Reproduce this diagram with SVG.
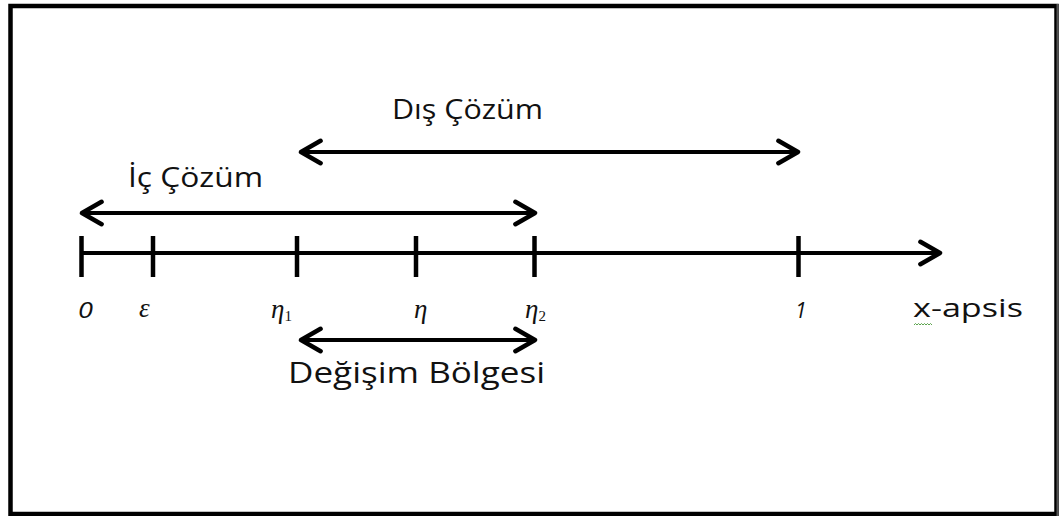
<svg xmlns="http://www.w3.org/2000/svg" width="1059" height="516" viewBox="0 0 1059 516">
  <style>
    .line { stroke: #000; stroke-width: 4; fill: none; stroke-linecap: butt; }
    .tick { stroke: #000; stroke-width: 4.5; }
    .lbl { font-family: "Open Sans", "Liberation Sans", sans-serif; fill: #111; }
    .math { font-family: "Liberation Serif", serif; font-style: italic; fill: #111; }
  </style>
  <defs>
    <marker id="chev" viewBox="0 0 20 20" refX="17" refY="10" markerWidth="7" markerHeight="7" markerUnits="strokeWidth" orient="auto-start-reverse">
      <path d="M3,2 L17,10 L3,18" fill="none" stroke="#000" stroke-width="3.2" stroke-linecap="round" stroke-linejoin="round"/>
    </marker>
  </defs>

  <rect x="0" y="0" width="1059" height="516" fill="#fff"/>
  <!-- frame -->
  <rect x="10.5" y="6" width="1046" height="508" fill="none" stroke="#000" stroke-width="4.5"/>
  <line x1="1057.5" y1="4" x2="1057.5" y2="516" stroke="#555" stroke-width="2"/>

  <g id="connectors">
    <!-- x axis -->
    <line class="line" x1="80" y1="253" x2="940" y2="253" marker-end="url(#chev)"/>
    <!-- Iç Çözüm range -->
    <line class="line" x1="82" y1="213" x2="535" y2="213" marker-start="url(#chev)" marker-end="url(#chev)"/>
    <!-- Dış Çözüm range -->
    <line class="line" x1="301" y1="152" x2="798" y2="152" marker-start="url(#chev)" marker-end="url(#chev)"/>
    <!-- Değişim Bölgesi range -->
    <line class="line" x1="301" y1="340" x2="535" y2="340" marker-start="url(#chev)" marker-end="url(#chev)"/>
  </g>

  <g id="ticks">
    <line class="tick" x1="81.5" y1="236" x2="81.5" y2="277"/>
    <line class="tick" x1="153" y1="236" x2="153" y2="277"/>
    <line class="tick" x1="297" y1="236" x2="297" y2="277"/>
    <line class="tick" x1="416" y1="236" x2="416" y2="277"/>
    <line class="tick" x1="534.5" y1="236" x2="534.5" y2="277"/>
    <line class="tick" x1="798.5" y1="236" x2="798.5" y2="277"/>
  </g>

  <g id="axis-labels">
    <text class="lbl" x="78" y="318" font-size="21" font-style="italic" textLength="15" lengthAdjust="spacingAndGlyphs">0</text>
    <text class="math" x="139" y="317" font-size="27" font-weight="normal">ε</text>
    <text class="math" x="271" y="318" font-size="27">η<tspan font-size="15" font-style="normal" dy="3">1</tspan></text>
    <text class="math" x="414" y="318" font-size="27">η</text>
    <text class="math" x="525" y="318" font-size="27">η<tspan font-size="15" font-style="normal" dy="3">2</tspan></text>
    <text class="lbl" x="795" y="318" font-size="21" font-style="italic">1</text>
    <text class="lbl" x="913" y="317" font-size="26" textLength="110" lengthAdjust="spacingAndGlyphs">x-apsis</text>
    <path d="M914,325 l1.5,-1.5 l1.5,1.5 l1.5,-1.5 l1.5,1.5 l1.5,-1.5 l1.5,1.5 l1.5,-1.5 l1.5,1.5 l1.5,-1.5 l1.5,1.5 l1.5,-1.5 l1.5,1.5" fill="none" stroke="#4a9a3a" stroke-width="0.9"/>
  </g>

  <g id="ic-cozum">
    <text class="lbl" x="128" y="187" font-size="27" textLength="135" lengthAdjust="spacingAndGlyphs">İç Çözüm</text>
  </g>
  <g id="dis-cozum">
    <text class="lbl" x="392" y="119" font-size="27" textLength="151" lengthAdjust="spacingAndGlyphs">Dış Çözüm</text>
  </g>
  <g id="degisim-bolgesi">
    <text class="lbl" x="288" y="383" font-size="29" textLength="257" lengthAdjust="spacingAndGlyphs">Değişim Bölgesi</text>
  </g>
</svg>
